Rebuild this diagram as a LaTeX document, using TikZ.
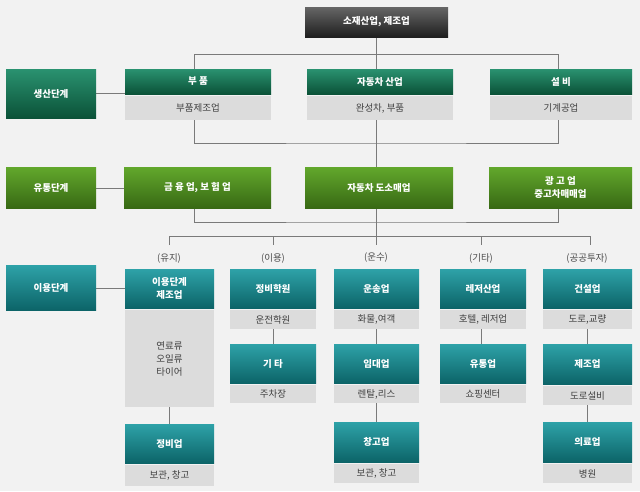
\documentclass[tikz,border=0pt]{standalone}
\usepackage{fontspec}
\setmainfont{Noto Sans CJK KR}
\definecolor{bg}{HTML}{F2F2F2}
\definecolor{ln}{HTML}{7A7A7A}
\definecolor{gb}{HTML}{DCDCDC}
\definecolor{gt}{HTML}{777777}
\tikzset{
 base/.style={inner sep=0pt,align=center,font=\fontsize{9.5}{13}\selectfont},
 dark/.style={base,top color=black!60,bottom color=black!88,text=white,font=\fontsize{9.5}{13}\selectfont\bfseries},
 prod/.style={base,top color=HTML2A9270,bottom color=HTML0B5238,text=white,font=\fontsize{9.5}{13}\selectfont\bfseries},
 dist/.style={base,top color=HTML62A82C,bottom color=HTML386914,text=white,font=\fontsize{9.5}{13}\selectfont\bfseries},
 use/.style={base,top color=HTML2EA2A8,bottom color=HTML0C6468,text=white,font=\fontsize{9.5}{13}\selectfont\bfseries},
 sub/.style={base,fill=gb,text=black!75},
 lbl/.style={base,text=black!70},
 conn/.style={draw=ln,line width=1pt},
}
\definecolor{HTML2A9270}{HTML}{2A9270}\definecolor{HTML0B5238}{HTML}{0B5238}
\definecolor{HTML62A82C}{HTML}{62A82C}\definecolor{HTML386914}{HTML}{386914}
\definecolor{HTML2EA2A8}{HTML}{2EA2A8}\definecolor{HTML0C6468}{HTML}{0C6468}
\newcommand\bx[7]{\node[#6,minimum width=#4pt-#2pt,minimum height=#5pt-#3pt] (#1) at ({(#2+#4)/2},{(#3+#5)/2}) {#7};}
\begin{document}
\begin{tikzpicture}[x=1pt,y=-1pt]
\fill[bg] (0,0) rectangle (640,491);
\useasboundingbox (0,0) rectangle (640,491);
% connectors first
\coordinate (t1) at (376,54);
\draw[conn] (194,120) |- (376,143) -| (558,120);
\draw[conn] (194,69) |- (558,54) -- (558,69);
\draw[conn] (376,37) -- (376,69);
\draw[conn] (376,120) -- (376,167);
\draw[conn] (194,208) |- (376,222) -| (558,208);
\draw[conn] (376,208) -- (376,236);
\draw[conn] (169,245) |- (590,236) -- (590,245);
\foreach \x in {273,376,481} \draw[conn] (\x,236) -- (\x,245);
\draw[conn] (96,93) -- (125,93);
\draw[conn] (96,188) -- (125,188);
\draw[conn] (96,288) -- (125,288);
\draw[conn] (169,407) -- (169,424);
\draw[conn] (273,329) -- (273,344);
\draw[conn] (376,329) -- (376,344);
\draw[conn] (376,403) -- (376,422);
\draw[conn] (481,329) -- (481,344);
\draw[conn] (587,329) -- (587,344);
\draw[conn] (587,405) -- (587,422);
% top
\bx{top}{305}{7}{448}{37}{dark}{소재산업, 제조업}
% stage labels
\bx{s1}{6}{69}{96}{118}{prod}{생산단계}
\bx{s2}{6}{167}{96}{208}{dist}{유통단계}
\bx{s3}{6}{265}{96}{310}{use}{이용단계}
% production
\bx{p1}{125}{69}{271}{94}{prod}{부 품}
\bx{p1s}{125}{96}{271}{120}{sub}{부품제조업}
\bx{p2}{307}{69}{453}{94}{prod}{자동차 산업}
\bx{p2s}{307}{96}{453}{120}{sub}{완성차, 부품}
\bx{p3}{490}{69}{632}{94}{prod}{설 비}
\bx{p3s}{490}{96}{632}{120}{sub}{기계공업}
% distribution
\bx{d1}{124}{167}{271}{208}{dist}{금 융 업, 보 험 업}
\bx{d2}{305}{167}{453}{208}{dist}{자동차 도소매업}
\bx{d3}{489}{167}{632}{208}{dist}{광 고 업\\중고차매매업}
% labels
\node[lbl] (l1) at (169,258) {(유지)};
\node[lbl] (l2) at (273,258) {(이용)};
\node[lbl] (l3) at (376,258) {(운수)};
\node[lbl] (l4) at (481,258) {(기타)};
\node[lbl] (l5) at (587,258) {(공공투자)};
% col1
\bx{a1}{125}{269}{214}{308}{use}{이용단계\\제조업}
\bx{a1s}{125}{310}{214}{407}{sub}{\fontsize{9.5}{26}\selectfont 연료류\\오일류\\타이어}
\bx{a2}{125}{424}{214}{463}{use}{정비업}
\bx{a2s}{125}{465}{214}{486}{sub}{보관, 창고}
% col2
\bx{b1}{230}{269}{316}{308}{use}{정비학원}
\bx{b1s}{230}{310}{316}{329}{sub}{운전학원}
\bx{b2}{230}{344}{316}{383}{use}{기 타}
\bx{b2s}{230}{385}{316}{403}{sub}{주차장}
% col3
\bx{c1}{334}{269}{419}{308}{use}{운송업}
\bx{c1s}{334}{310}{419}{329}{sub}{화물,여객}
\bx{c2}{334}{344}{419}{383}{use}{임대업}
\bx{c2s}{334}{385}{419}{403}{sub}{렌탈,리스}
\bx{c3}{334}{422}{419}{462}{use}{창고업}
\bx{c3s}{334}{464}{419}{483}{sub}{보관, 창고}
% col4
\bx{e1}{440}{269}{526}{308}{use}{레저산업}
\bx{e1s}{440}{310}{526}{329}{sub}{호텔, 레저업}
\bx{e2}{440}{344}{526}{383}{use}{유통업}
\bx{e2s}{440}{385}{526}{403}{sub}{쇼핑센터}
% col5
\bx{f1}{543}{269}{632}{308}{use}{건설업}
\bx{f1s}{543}{310}{632}{329}{sub}{도로,교량}
\bx{f2}{543}{344}{632}{384}{use}{제조업}
\bx{f2s}{543}{386}{632}{405}{sub}{도로설비}
\bx{f3}{543}{422}{632}{462}{use}{의료업}
\bx{f3s}{543}{464}{632}{483}{sub}{병원}
\end{tikzpicture}
\end{document}
